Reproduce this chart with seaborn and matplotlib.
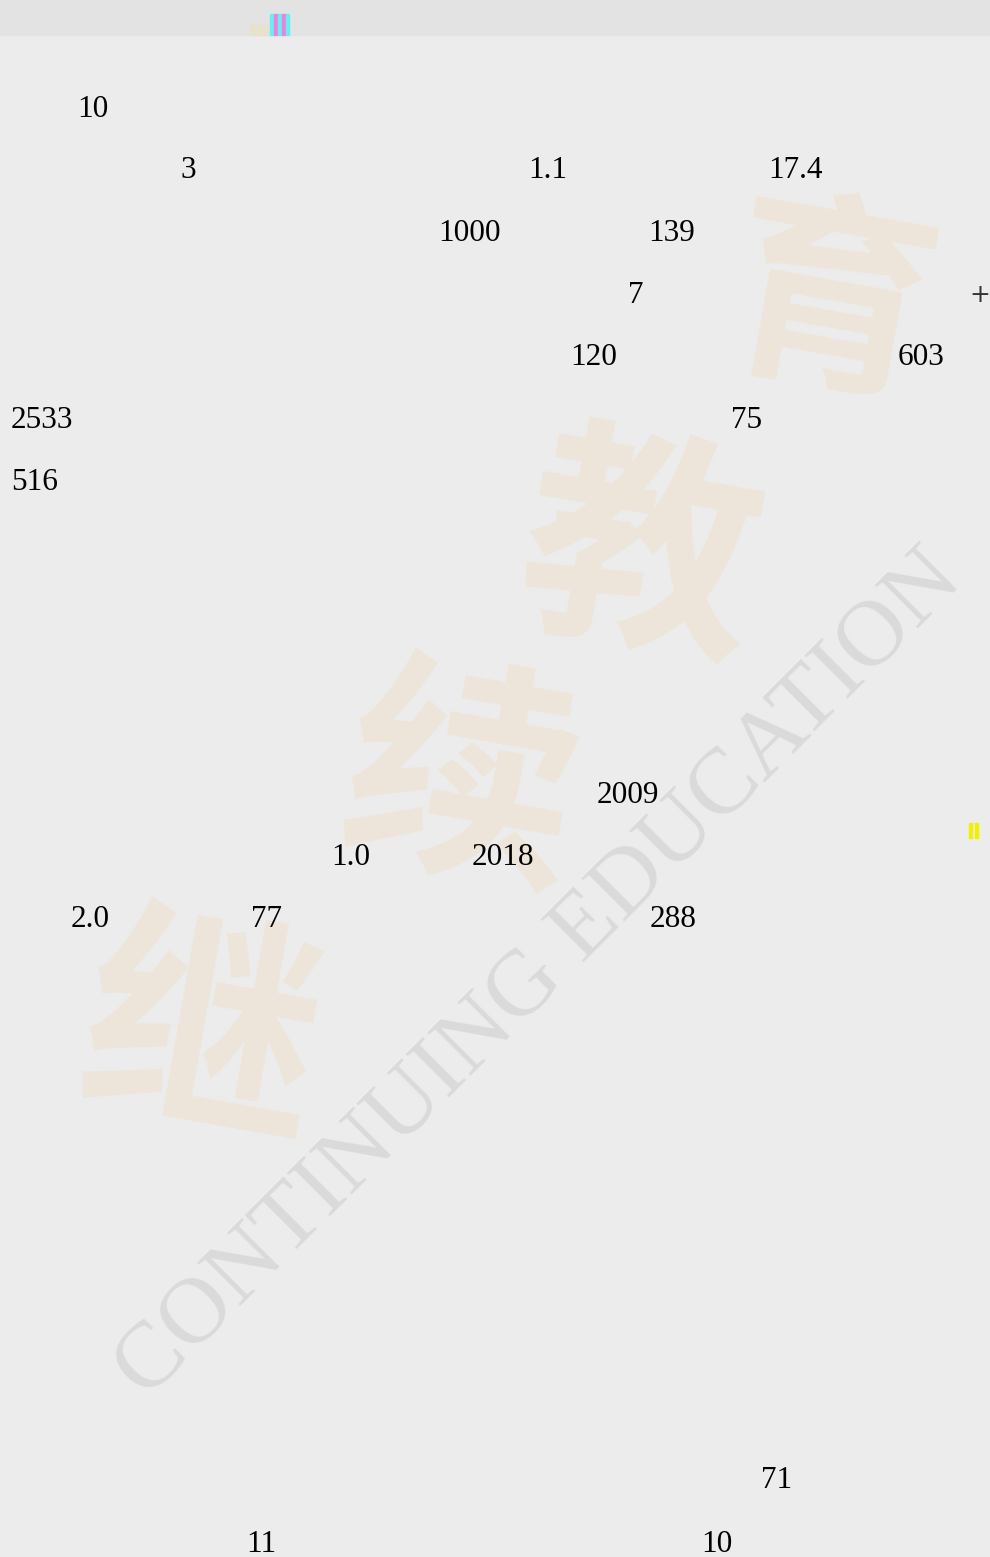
import pandas as pd
import seaborn as sns
import matplotlib.pyplot as plt
from matplotlib.patches import Rectangle

# numbers left on the page, in reading order
values = ['10', '3', '1.1', '17.4', '1000', '139', '7', '120', '603',
          '2533', '75', '516', '2009', '1.0', '2018', '2.0', '77', '288',
          '71', '11', '10']
# text line each number sits on (0 = first line)
line_no = [0, 1, 1, 1, 2, 2, 3, 4, 4, 5, 5, 6, 11, 12, 12, 13, 13, 13, 22, 23, 23]
watermark_cn = ['继', '续', '教', '育']
watermark_en = 'CONTINUING EDUCATION'

# layout (pixels)
line_x = [77, 180, 528, 768, 438, 648, 628, 570, 898, 11, 731, 11, 597,
          331, 472, 71, 251, 650, 761, 246, 701]
line_base = {0: 117, 1: 178, 2: 241, 3: 303, 4: 365, 5: 428, 6: 490,
             11: 803, 12: 865, 13: 927, 22: 1488, 23: 1552}


def main():
    df = pd.DataFrame({'text': values, 'line': line_no, 'x': line_x})
    df['y'] = df['line'].map(line_base)

    sns.set_theme(style='white')
    plt.rcParams['font.family'] = ['Liberation Serif', 'DejaVu Sans']

    fig = plt.figure(figsize=(9.9, 15.57), dpi=100)
    fig.patch.set_facecolor('#ececec')
    ax = fig.add_axes([0, 0, 1, 1])
    ax.set_facecolor('#ececec')
    ax.set_xlim(0, 990)
    ax.set_ylim(1557, 0)
    ax.axis('off')

    # header strip
    ax.axhspan(0, 35, color='#e3e3e3', zorder=0)
    ax.add_patch(Rectangle((250, 25), 18, 10, color='#e6e2cc', zorder=1))
    for i, c in enumerate(['#66f0f0', '#f27ee0', '#66f0f0', '#f27ee0', '#66f0f0']):
        ax.add_patch(Rectangle((270 + i * 4, 14), 3, 21, color=c, zorder=1))

    # calligraphy watermark
    spots = [(200, 1040), (460, 790), (640, 560), (830, 310)]
    sizes = [170, 170, 170, 150]
    for ch, (cx, cy), fs in zip(watermark_cn, spots, sizes):
        ax.text(cx, cy, ch, fontsize=fs, family=['Noto Sans CJK SC'], weight='bold',
                color='#eee4da', ha='center', va='center', rotation=-10, zorder=1)

    # english watermark
    ax.text(540, 975, watermark_en, fontsize=68, color='#dadada', rotation=45,
            ha='center', va='center', rotation_mode='anchor', zorder=2)

    for _, r in df.iterrows():
        ax.text(r['x'], r['y'], r['text'], fontsize=22.5, color='black',
                ha='left', va='baseline', zorder=3)

    ax.text(980, 295, '+', fontsize=18, color='#333333', ha='center', va='center',
            family=['DejaVu Sans'], zorder=3)
    ax.add_patch(Rectangle((969, 823), 3, 15, color='#f0f000', zorder=3))
    ax.add_patch(Rectangle((975, 823), 3, 15, color='#f0f000', zorder=3))

    plt.savefig('out.png', dpi=100)


if __name__ == '__main__':
    main()
